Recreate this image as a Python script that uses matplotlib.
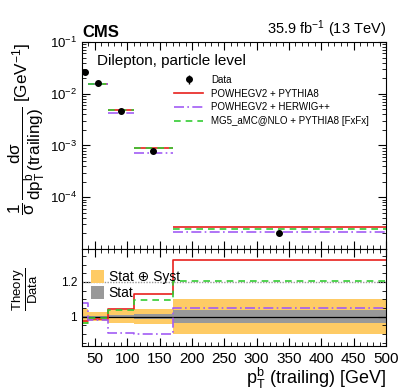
import numpy as np
import matplotlib
matplotlib.use("Agg")
import matplotlib.pyplot as plt
from matplotlib.ticker import LogLocator, MultipleLocator, NullFormatter, FixedLocator
from matplotlib.patches import Patch
from matplotlib.lines import Line2D

plt.rcParams['font.family'] = ['Liberation Sans', 'DejaVu Sans']
plt.rcParams['mathtext.fontset'] = 'custom'
plt.rcParams['mathtext.rm'] = 'Liberation Sans'
plt.rcParams['mathtext.it'] = 'Liberation Sans'
plt.rcParams['mathtext.bf'] = 'Liberation Sans:bold'

# bins in pT (trailing b jet)
bin_edges = [30, 40, 70, 110, 170, 500]
data = [0.0258, 0.0159, 0.00465, 0.000800, 2.0e-5]

# theory / data ratios
ratio_powheg_py8 = [0.972, 0.984, 1.042, 1.13, 1.325]
ratio_powheg_hw = [1.08, 0.98, 0.907, 0.898, 1.048]
ratio_mg5 = [0.962, 0.99, 1.036, 1.094, 1.205]

# relative uncertainties
unc_tot = [0.044, 0.027, 0.038, 0.045, 0.10]
unc_stat = [0.006, 0.005, 0.008, 0.015, 0.036]

c_red = '#e8201c'
c_purple = '#a25cf5'
c_green = '#33cc33'
c_orange = '#fecb65'
c_gray = '#999999'

edges = np.array(bin_edges, dtype=float)
centers = 0.5 * (edges[1:] + edges[:-1])
data = np.array(data)

models = [
    ("POWHEGV2 + PYTHIA8", ratio_powheg_py8, c_red, '-'),
    ("POWHEGV2 + HERWIG++", ratio_powheg_hw, c_purple, (0, (6, 2, 1, 2))),
    ("MG5_aMC@NLO + PYTHIA8 [FxFx]", ratio_mg5, c_green, (0, (4, 3))),
]

fig = plt.figure(figsize=(4.07, 3.91), dpi=100)
ax = fig.add_axes([0.2015, 0.3632, 0.747, 0.5294])
rax = fig.add_axes([0.2015, 0.1151, 0.747, 0.2481])

# ---------- top panel ----------
for name, r, col, ls in models:
    pred = data * np.array(r)
    for i in range(len(pred)):
        ax.hlines(pred[i], edges[i], edges[i + 1], colors=col, linestyles=ls, lw=1.2)
ax.errorbar(centers, data, yerr=data * np.array(unc_tot), fmt='o', color='black',
            ms=4, elinewidth=1, capsize=0, zorder=5)

ax.set_yscale('log')
ax.set_ylim(1e-5, 1e-1)
ax.set_xlim(30, 500)
ax.yaxis.set_minor_locator(LogLocator(base=10, subs=np.arange(2, 10), numticks=10))
ax.yaxis.set_minor_formatter(NullFormatter())
ax.xaxis.set_major_locator(MultipleLocator(50))
ax.xaxis.set_minor_locator(MultipleLocator(10))
ax.tick_params(which='both', direction='in', top=True, right=True, labelsize=9.5)
ax.tick_params(which='major', length=6)
ax.tick_params(which='minor', length=3)
ax.set_yticks([1e-1, 1e-2, 1e-3, 1e-4])
ax.set_yticklabels([r'$10^{-1}$', r'$10^{-2}$', r'$10^{-3}$', r'$10^{-4}$'])
ax.tick_params(axis='x', labelbottom=False)

ax.set_ylabel(r'$\dfrac{1}{\sigma}\,\dfrac{d\sigma}{dp_T^b\,\mathrm{(trailing)}}\ [\mathrm{GeV}^{-1}]$',
              fontsize=12.3)
ax.yaxis.set_label_coords(-0.115, 0.58)

ax.text(0.0, 1.012, 'CMS', transform=ax.transAxes, fontsize=12, fontweight='bold',
        ha='left', va='bottom')
ax.text(1.0, 1.012, r'35.9 fb$^{-1}$ (13 TeV)', transform=ax.transAxes, fontsize=10.5,
        ha='right', va='bottom')
ax.text(0.05, 0.94, 'Dilepton, particle level', transform=ax.transAxes, fontsize=11,
        ha='left', va='top')

h_data = ax.errorbar([], [], yerr=[], fmt='o', color='black', ms=4, elinewidth=1)
handles = [h_data] + [Line2D([0], [0], color=c, ls=ls, lw=1.2) for _, _, c, ls in models]
labels = ['Data'] + [m[0] for m in models]
ax.legend(handles, labels, loc='upper left', bbox_to_anchor=(0.29, 0.86), frameon=False,
          fontsize=7, handlelength=3.0, labelspacing=0.38, borderaxespad=0)

# ---------- ratio panel ----------
tot = np.array(unc_tot)
stat = np.array(unc_stat)
tot_lo = np.append(1 - tot, 1 - tot[-1])
tot_hi = np.append(1 + tot, 1 + tot[-1])
st_lo = np.append(1 - stat, 1 - stat[-1])
st_hi = np.append(1 + stat, 1 + stat[-1])
rax.fill_between(edges, tot_lo, tot_hi, step='post', color=c_orange, lw=0)
rax.fill_between(edges, st_lo, st_hi, step='post', color=c_gray, lw=0)
rax.axhline(1.0, color='black', lw=0.9)
rax.axhline(1.2, color='#999999', lw=1, ls=(0, (1, 1)))
for name, r, col, ls in models:
    rr = np.append(r, r[-1])
    rax.step(edges, rr, where='post', color=col, ls=ls, lw=1.2)

rax.set_xlim(30, 500)
rax.set_ylim(0.83, 1.39)
rax.yaxis.set_major_locator(FixedLocator([1.0, 1.2]))
rax.set_yticklabels(['1', '1.2'])
rax.yaxis.set_minor_locator(MultipleLocator(0.05))
rax.xaxis.set_minor_locator(MultipleLocator(10))
rax.set_xticks([50, 100, 150, 200, 250, 300, 350, 400, 450, 500])
rax.tick_params(which='both', direction='in', top=True, right=True)
rax.tick_params(axis='y', labelsize=8.5)
rax.tick_params(axis='x', labelsize=11, pad=4)
rax.tick_params(which='major', length=6)
rax.tick_params(which='minor', length=3)

rax.set_ylabel(r'$\dfrac{\mathrm{Theory}}{\mathrm{Data}}$', fontsize=9.5)
rax.yaxis.set_label_coords(-0.138, 0.58)
rax.set_xlabel(r'$p_T^b$ (trailing) [GeV]', fontsize=13, loc='right', labelpad=0)

rh = [Patch(facecolor=c_orange, edgecolor='none'), Patch(facecolor=c_gray, edgecolor='none')]
rax.legend(rh, ['Stat \u2295 Syst', 'Stat'], loc='upper left', bbox_to_anchor=(0.01, 0.84),
           frameon=False, fontsize=10, handlelength=1.0, handleheight=1.1,
           labelspacing=0.1, borderaxespad=0, handletextpad=0.3)

fig.savefig('out.png', dpi=100)
